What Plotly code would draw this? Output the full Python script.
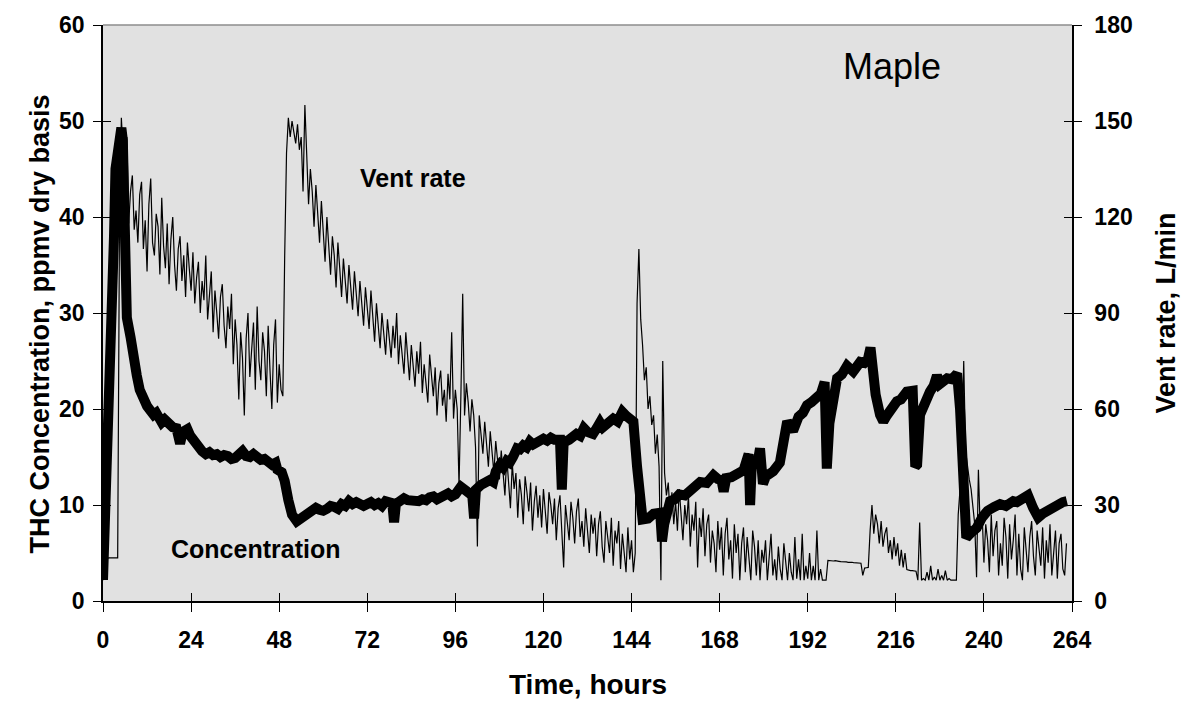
import plotly.graph_objects as go

# ---------------- data ----------------
x_tick_hours = [0, 24, 48, 72, 96, 120, 144, 168, 192, 216, 240, 264]
left_ticks = [0, 10, 20, 30, 40, 50, 60]
right_ticks = [0, 30, 60, 90, 120, 150, 180]

# THC concentration (ppmv dry basis)
conc_hours = [0, 0.8, 1.6, 2.4, 3.0, 3.4, 4.0, 4.6, 5.0, 5.4, 5.7, 5.9, 6.5, 7.5, 8.3, 9.2, 10, 11, 12, 13,
              13.8, 14.5, 15.3, 16, 16.8, 17.5, 18.3, 19, 20, 21, 21.7, 23, 23.8, 24.5, 25.2, 26, 27, 28, 29, 30,
              31, 32, 33, 34, 35, 36, 37, 38, 39, 40, 41, 42, 43, 44, 45, 46, 47, 47.5, 48.7, 49.5,
              50.5, 51.5, 52.8, 54, 55.5, 57, 58, 59, 60, 61, 62, 63, 64, 65, 66, 67, 68, 69, 70, 71,
              72, 73, 74, 75, 76, 77, 78.8, 79.3, 79.8, 81, 82, 83, 84, 85, 86, 87, 88, 89, 90, 91,
              92, 93, 94, 95, 96, 97.5, 99, 100.6, 101.1, 101.6, 103, 104.2, 105.4, 106.3, 107, 108.2, 109, 110, 110.8, 111.7,
              112.8, 113.6, 114.5, 115.4, 116.3, 117.2, 118, 119, 120, 121, 122, 123, 124.5, 125.0, 125.5, 127, 128, 129, 130, 131,
              132, 133.5, 134.5, 135.4, 136.2, 137, 138, 139, 140.2, 141.5, 142.5, 143.5, 144.5, 145.5, 147, 148.5, 150, 151.8, 152.3, 152.9,
              154.5, 155.8, 157, 158.5, 160, 161.4, 162.7, 164.5, 166.3, 167.5, 168.5, 169.1, 169.8, 171.2, 172.7, 174.5, 175.9, 176.3, 176.8, 178.3,
              179.0, 179.8, 180.6, 182.6, 184.4, 185.5, 186.4, 188, 189.5, 190.7, 191.8, 193, 194.5, 195.6, 196.6, 197.2, 197.9, 198.6, 200, 201.3,
              202.7, 204.4, 206.3, 207.4, 208.4, 209.1, 209.8, 210.5, 211.7, 212.6, 213.5, 214.5, 215.4, 216.3, 217.4, 218.4, 219.0, 220.6, 221.3, 221.8,
              222.6, 224, 225.3, 226.3, 227.2, 228, 229, 230, 231.3, 232.7, 233.5, 234.3, 235.2, 236.5, 238, 239.5, 241, 242.8, 244.4, 246,
              247, 248, 249, 250, 251, 252, 253.4, 254.8, 256, 257.2, 258.6, 260, 261.5, 262.6]
conc_ppmv = [2.2, 10, 20, 30, 38, 45, 46.5, 47, 49.3, 48, 40, 31, 29.5, 27.5, 25, 23.5, 22, 21, 20.3, 19.8,
             19.4, 19.6, 18.9, 18.6, 18.9, 18.6, 18.3, 18.1, 18.0, 16.4, 17.6, 17.9, 17.2, 16.8, 16.2, 15.8, 15.6, 15.3, 15.5, 15.2,
             15.3, 15.0, 15.2, 15.1, 14.8, 14.9, 15.2, 15.6, 15.1, 15.0, 15.3, 15.0, 14.7, 14.8, 14.5, 14.2, 14.4, 13.7, 13.4, 12.5,
             10.5, 9.0, 8.3, 8.7, 9.2, 9.4, 9.7, 9.5, 9.4, 9.6, 9.9, 9.8, 9.6, 10.1, 9.9, 10.4, 10.1, 10.3, 10.0, 9.9,
             10.1, 10.3, 10.0, 10.2, 9.9, 10.4, 10.2, 8.2, 10.1, 10.4, 10.7, 10.5, 10.5, 10.3, 10.4, 10.6, 10.5, 10.8, 10.9, 10.6,
             10.8, 11.1, 11.2, 10.9, 11.1, 11.9, 11.5, 11.0, 8.6, 11.6, 12.1, 12.3, 12.6, 12.4, 13.5, 14.2, 13.9, 14.6, 14.4, 15.0,
             15.9, 15.8, 16.2, 16.0, 16.6, 16.3, 16.5, 16.8, 16.9, 16.7, 17.0, 16.8, 16.8, 11.6, 16.5, 16.8, 17.1, 17.4, 17.2, 18.0,
             17.6, 17.4, 18.0, 18.6, 18.1, 18.4, 18.8, 19.0, 18.7, 19.7, 19.3, 19.1, 18.7, 14.0, 8.5, 8.6, 9.1, 9.2, 6.2, 8.0,
             10.4, 10.6, 11.1, 11.0, 11.5, 11.7, 12.4, 12.3, 13.1, 12.7, 12.6, 11.4, 12.8, 12.9, 13.2, 13.6, 15.3, 10.0, 14.6, 14.3,
             15.9, 12.2, 13.0, 13.5, 14.4, 17.5, 18.7, 17.7, 19.2, 19.6, 20.4, 20.7, 21.1, 21.6, 22.8, 13.8, 18.5, 20.8, 23.2, 23.6,
             24.5, 23.9, 24.9, 24.8, 25.2, 26.4, 23.5, 21.5, 19.4, 18.7, 19.3, 19.9, 20.3, 20.8, 21.0, 21.5, 21.8, 21.9, 14.0, 14.2,
             19.4, 20.9, 21.8, 22.4, 23.5, 22.6, 22.9, 23.2, 23.1, 23.7, 20.0, 10.0, 6.6, 7.1, 7.6, 8.7, 9.4, 9.8, 10.1, 9.9,
             10.2, 10.4, 10.3, 10.6, 10.7, 11.0, 9.7, 8.7, 9.1, 9.4, 9.8, 10.1, 10.3, 10.4]

# Vent rate (L/min), one reading every half hour from t = 0 h
VENT_STEP_HOURS = 0.5
vent_lpm = [
    6.5, 13, 13, 13.5, 13.5, 13.5, 13.5, 13.5, 13.5, 120, 151, 140, 137, 145, 118, 128, 133, 116, 122, 112, 127, 131, 110, 119,   # 0 h
    103, 124, 132, 112, 108, 121, 117, 102, 126, 111, 104, 118, 99, 113, 120, 105, 97, 110, 114, 100, 108, 95, 112, 104,           # 12 h
    97, 109, 93, 101, 106, 90, 100, 94, 108, 88, 96, 103, 84, 97, 90, 82, 95, 99, 86, 79, 92, 85, 96, 74,                          # 24 h
    88, 80, 63, 84, 76, 58, 82, 90, 70, 79, 87, 66, 92, 75, 69, 84, 78, 64, 86, 72, 60, 80, 88, 62,                                # 36 h
    74, 66, 64, 108, 140, 151, 145, 150, 147, 143, 149, 141, 145, 128, 155, 136, 124, 135, 128, 117, 130, 121, 112, 125,           # 48 h
    116, 106, 120, 111, 102, 114, 108, 98, 112, 104, 95, 107, 101, 93, 105, 99, 91, 103, 96, 89, 100, 94, 86, 98,                  # 60 h
    92, 85, 97, 88, 81, 93, 86, 79, 90, 84, 77, 88, 82, 76, 86, 79, 90, 74, 83, 78, 71, 84, 76, 69,                                # 72 h
    80, 73, 67, 78, 71, 81, 65, 74, 69, 62, 77, 70, 64, 73, 58, 68, 72, 61, 66, 56, 71, 63, 84, 57,                                # 84 h
    66, 60, 36, 64, 96, 58, 68, 62, 53, 63, 58, 48, 17, 58, 52, 46, 56, 49, 42, 53, 47, 40, 50, 44,                                # 96 h
    38, 47, 41, 33, 45, 37, 29, 43, 35, 40, 26, 38, 33, 24, 39, 34, 28, 37, 22, 31, 36, 26, 33, 23,                                # 108 h
    35, 28, 21, 34, 30, 24, 32, 19, 29, 33, 22, 10.5, 30, 24, 19, 31, 26, 18, 28, 32, 20, 25, 17, 29,                              # 120 h
    23, 15, 27, 21, 26, 14, 24, 28, 17, 12, 25, 20, 15, 26, 11, 22, 18, 25, 10, 21, 16, 9, 23, 13,                                 # 132 h
    19, 9, 15, 93, 110, 88, 80, 69, 73, 60, 64, 55, 58, 46, 52, 42, 6.5, 75, 40, 33, 37, 27, 34, 24,                               # 144 h
    31, 22, 35, 26, 19, 30, 24, 33, 17, 27, 22, 31, 10.5, 26, 20, 29, 14, 24, 27, 12, 22, 18, 9, 25,                               # 156 h
    16, 23, 8, 21, 26, 13, 19, 7, 24, 15, 21, 6.5, 18, 23, 9, 20, 14, 6.5, 22, 17, 8, 19, 6.5, 16,                                 # 168 h
    12, 19, 6.5, 15, 21, 8, 13, 6.5, 17, 10, 6.5, 18, 12, 6.5, 15, 9, 6.5, 20, 7, 13, 6.5, 21, 6.5, 11,                            # 180 h
    7, 15, 6.5, 11, 6.5, 22, 6.5, 10, 6.5, 6.5, 6.5, 12.7, 12.6, 12.5, 12.5, 12.6, 12.4, 12.4, 12.3, 12.3, 12.4, 12.2, 12.1, 12.2, # 192 h
    12.1, 12.0, 12.0, 11.9, 11.9, 11.8, 8.0, 10.3, 10.4, 10.5, 22, 30, 21, 27, 24, 18, 25, 17, 21, 23, 15, 19, 13, 20,             # 204 h
    14, 18, 11, 16, 10.5, 15, 9.8, 9.6, 9.5, 9.5, 9.4, 9.3, 6.5, 24.5, 6.5, 7, 6.5, 9, 6.5, 11, 6.5, 7.5, 6.5, 10,                 # 216 h
    6.5, 8, 6.5, 9.5, 6.5, 7, 6.5, 6.5, 6.5, 6.5, 27, 35, 48, 75, 47, 42, 38, 35, 30, 24, 7.4, 41, 22, 28,                         # 228 h
    12, 24, 19, 9, 27, 14, 22, 25, 8, 18, 11, 26, 20, 7, 24, 13, 19, 27, 8, 21, 10, 6.5, 23, 16,                                   # 240 h
    9, 20, 25, 14, 8, 22, 17, 11, 23, 7, 19, 12, 24, 8, 15, 22, 7, 18, 21, 10, 8, 18,                                              # 252 h
]
vent_hours = [VENT_STEP_HOURS * i for i in range(len(vent_lpm))]

# ---------------- styling ----------------
FONT = "Liberation Sans, Arial, sans-serif"
BG = "#e1e1e1"
TICK_FONT = dict(family=FONT, size=23, color="black", weight="bold")

fig = go.Figure()

fig.add_trace(go.Scatter(
    x=conc_hours, y=conc_ppmv, mode="lines", name="Concentration",
    line=dict(color="black", width=10), yaxis="y", xaxis="x", showlegend=False,
))
fig.add_trace(go.Scatter(
    x=vent_hours, y=vent_lpm, mode="lines", name="Vent rate",
    line=dict(color="black", width=1.2), yaxis="y2", xaxis="x", showlegend=False,
))
# empty traces so the inner tick-mark axes are built
fig.add_trace(go.Scatter(x=[], y=[], xaxis="x2", yaxis="y3", showlegend=False, hoverinfo="skip"))
fig.add_trace(go.Scatter(x=[], y=[], xaxis="x2", yaxis="y4", showlegend=False, hoverinfo="skip"))

fig.update_layout(
    width=1186, height=702,
    margin=dict(l=103, r=114, t=20, b=101),
    paper_bgcolor="white", plot_bgcolor=BG,
    font=dict(family=FONT, color="black"),
    xaxis=dict(
        range=[0, 264], tickvals=x_tick_hours, ticktext=[str(v) for v in x_tick_hours],
        ticks="outside", ticklen=9, tickwidth=1, tickcolor="black",
        showline=True, linecolor="black", linewidth=2,
        showgrid=False, zeroline=False, tickfont=TICK_FONT, ticklabelstandoff=8,
    ),
    xaxis2=dict(
        range=[0, 264], tickvals=x_tick_hours, overlaying="x", anchor="y3", side="bottom",
        ticks="inside", ticklen=8, tickwidth=1, tickcolor="black",
        showticklabels=False, showline=False, showgrid=False, zeroline=False,
    ),
    yaxis=dict(
        range=[0, 60], tickvals=left_ticks,
        ticks="outside", ticklen=8, tickwidth=1, tickcolor="black",
        showline=True, linecolor="black", linewidth=1.5,
        showgrid=False, zeroline=False, tickfont=TICK_FONT, ticklabelstandoff=4,
    ),
    yaxis2=dict(
        range=[0, 180], tickvals=right_ticks, overlaying="y", side="right", anchor="x",
        ticks="outside", ticklen=8, tickwidth=1, tickcolor="black",
        showline=True, linecolor="black", linewidth=1.5,
        showgrid=False, zeroline=False, tickfont=TICK_FONT, ticklabelstandoff=8,
    ),
    yaxis3=dict(
        range=[0, 60], tickvals=left_ticks, overlaying="y", side="left", anchor="x2",
        ticks="inside", ticklen=8, tickwidth=1, tickcolor="black",
        showticklabels=False, showline=False, showgrid=False, zeroline=False,
    ),
    yaxis4=dict(
        range=[0, 180], tickvals=right_ticks, overlaying="y", side="right", anchor="x2",
        ticks="inside", ticklen=8, tickwidth=1, tickcolor="black",
        showticklabels=False, showline=False, showgrid=False, zeroline=False,
    ),
    shapes=[dict(type="line", xref="paper", yref="paper", x0=0, x1=1, y0=1, y1=1,
                 line=dict(color="#8c8c8c", width=1.5))],
    annotations=[
        dict(text="Time, hours", xref="paper", yref="paper", x=0.5, y=-0.145,
             xanchor="center", yanchor="middle", showarrow=False,
             font=dict(family=FONT, size=28, color="black", weight="bold")),
        dict(text="THC Concentration, ppmv dry basis", xref="paper", yref="paper",
             x=-0.065, y=0.48, textangle=-90, xanchor="center", yanchor="middle",
             showarrow=False, font=dict(family=FONT, size=27, color="black", weight="bold")),
        dict(text="Vent rate, L/min", xref="paper", yref="paper",
             x=1.0965, y=0.5, textangle=-90, xanchor="center", yanchor="middle",
             showarrow=False, font=dict(family=FONT, size=27, color="black", weight="bold")),
        dict(text="Maple", xref="paper", yref="paper", x=0.814, y=0.928,
             xanchor="center", yanchor="middle", showarrow=False,
             font=dict(family=FONT, size=36, color="black")),
        dict(text="Vent rate", xref="paper", yref="paper", x=0.320, y=0.735,
             xanchor="center", yanchor="middle", showarrow=False,
             font=dict(family=FONT, size=25, color="black", weight="bold")),
        dict(text="Concentration", xref="paper", yref="paper", x=0.157, y=0.091,
             xanchor="center", yanchor="middle", showarrow=False,
             font=dict(family=FONT, size=25, color="black", weight="bold")),
    ],
)

fig.write_html("out.html")
